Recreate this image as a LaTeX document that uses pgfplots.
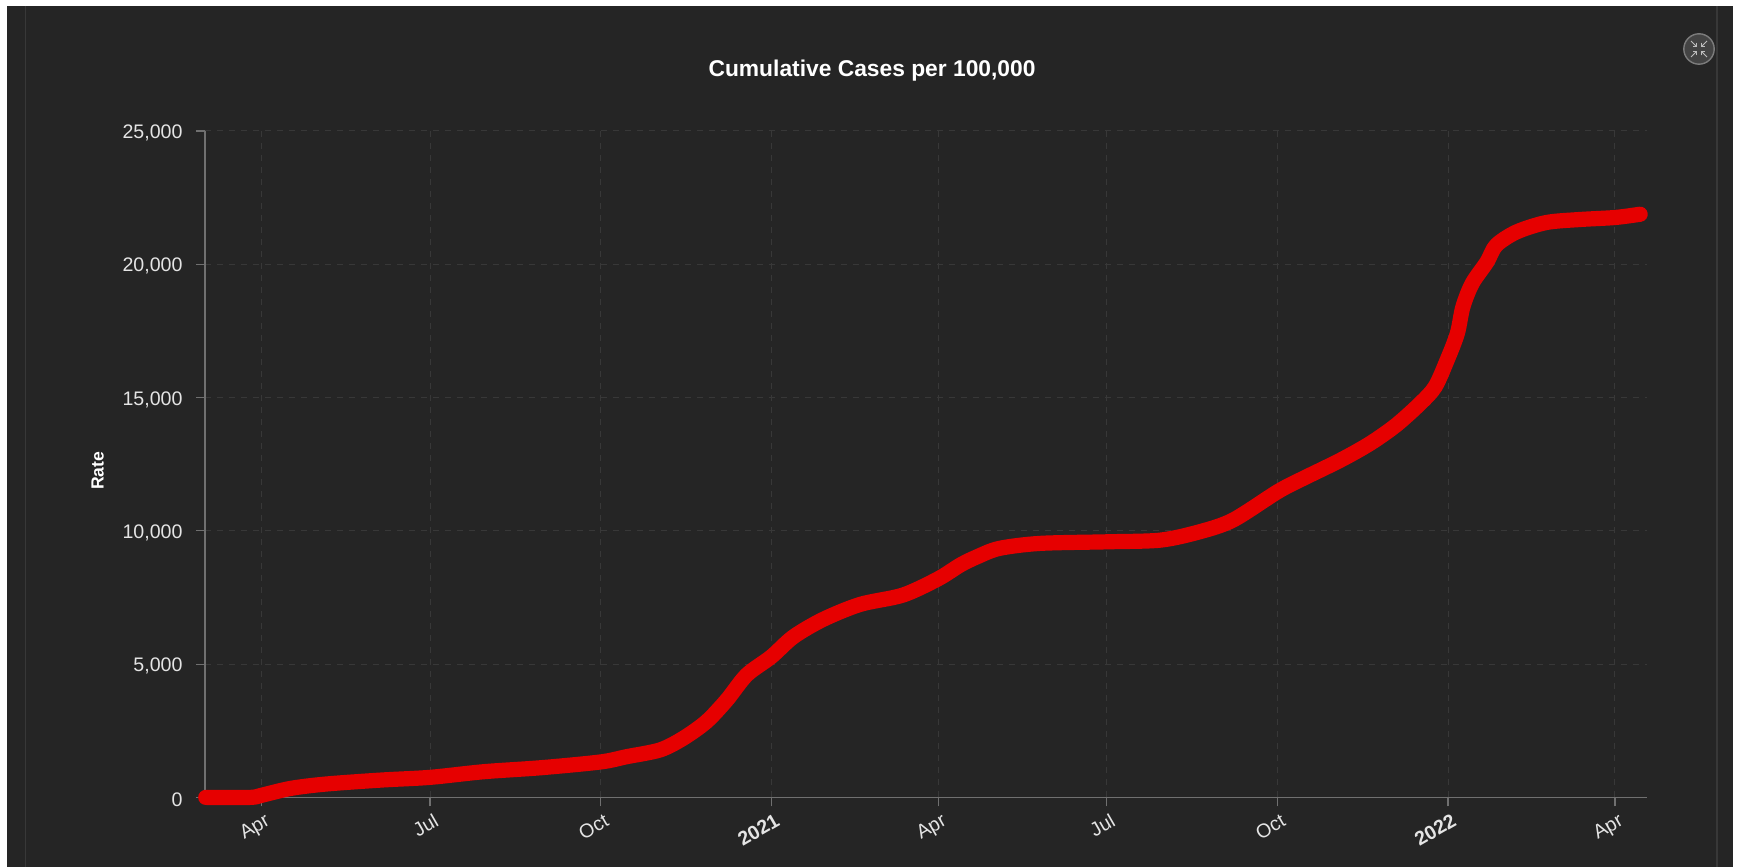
\documentclass[border=0pt]{standalone}
\usepackage{pgfplots}
\pgfplotsset{compat=1.18}
\usepackage{fontspec}
\setmainfont{Liberation Sans}
\definecolor{bgc}{HTML}{252525}
\definecolor{gridc}{HTML}{383838}
\definecolor{axisc}{HTML}{707070}
\definecolor{linec}{HTML}{E60000}
\definecolor{labc}{HTML}{E4E4E4}
\begin{document}
\begin{tikzpicture}
\path[use as bounding box] (0,0) rectangle (868.5pt,433.5pt);
\fill[white] (0,0) rectangle (868.5pt,433.5pt);
\fill[bgc] (3.5pt,0) rectangle (866.5pt,430.5pt);
\draw[gridc,line width=0.6pt] (12.7pt,0) -- (12.7pt,430.5pt);
\draw[gridc,line width=0.6pt] (858.5pt,0) -- (858.5pt,430.5pt);
% compress icon
\draw[fill=white!14!bgc,draw=white!40!bgc,line width=0.7pt] (849.5pt,409pt) circle (7.6pt);
\foreach \sx/\sy in {1/1,1/-1,-1/1,-1/-1}{
  \draw[white!70!bgc,line width=0.5pt] (849.5pt+\sx*1.2pt,409pt+\sy*1.2pt) -- (849.5pt+\sx*4pt,409pt+\sy*4pt);
  \draw[white!70!bgc,line width=0.5pt] (849.5pt+\sx*1.2pt,409pt+\sy*3.2pt) -- (849.5pt+\sx*1.2pt,409pt+\sy*1.2pt) -- (849.5pt+\sx*3.2pt,409pt+\sy*1.2pt);
}
\begin{axis}[
  at={(102.5pt,34.8pt)}, anchor=south west,
  scale only axis, width=721pt, height=333.2pt,
  xmin=60.6, xmax=838.3, ymin=0, ymax=25000,
  axis lines=left,
  axis line style={axisc,line width=0.8pt,-},
  clip=false,
  scaled y ticks=false,
  xtick={91,182,274,366,456,547,639,731,821},
  xticklabels={Apr,Jul,Oct,\textbf{2021},Apr,Jul,Oct,\textbf{2022},Apr},
  ytick={0,5000,10000,15000,20000,25000},
  yticklabels={0,{5,000},{10,000},{15,000},{20,000},{25,000}},
  tick align=outside,
  major tick length=4.5pt,
  tick style={axisc,line width=0.6pt},
  grid=major,
  major grid style={gridc,line width=0.5pt,dash pattern=on 3pt off 3pt},
  ticklabel style={font=\fontsize{9.8}{11}\selectfont,text=labc},
  xticklabel style={rotate=30,anchor=north east,xshift=3pt,yshift=0pt},
  yticklabel style={xshift=-3.2pt,yshift=-1pt},
  title={Cumulative Cases per 100,000},
  title style={at={(axis description cs:0.4626,1.0719)},anchor=center,yshift=0pt,font=\fontsize{11.4}{13}\selectfont\bfseries,text=white},
  ylabel={Rate},
  ylabel style={at={(axis description cs:-0.0745,0.49)},anchor=center,rotate=0,font=\fontsize{8.8}{11}\selectfont\bfseries,text=white},
]
\addplot[linec,line width=7.6pt,line cap=round,line join=round,smooth,tension=0.5] coordinates {
(61,0)(85,0)(91.7,90)(107,340)(126,502)(156,652)(182,752)(211,964)(242,1114)(274,1330)
(288,1527)(306,1780)(318.5,2216)(331,2839)(342,3652)(352.7,4590)(366,5276)(378,6027)(394,6678)
(414,7241)(437,7590)(456,8200)(468,8720)(477,9026)(489,9341)(511,9529)(547.6,9589)(576,9652)
(597,9964)(615,10402)(639,11464)(651,11902)(673,12652)(689,13279)(703,13965)(716,14779)
(724,15401)(730.5,16403)(736,17404)(739,18401)(744,19279)(752,20089)(757,20715)(768,21214)
(784,21566)(802,21679)(821,21754)(834.6,21877)
};
\end{axis}
\end{tikzpicture}
\end{document}
